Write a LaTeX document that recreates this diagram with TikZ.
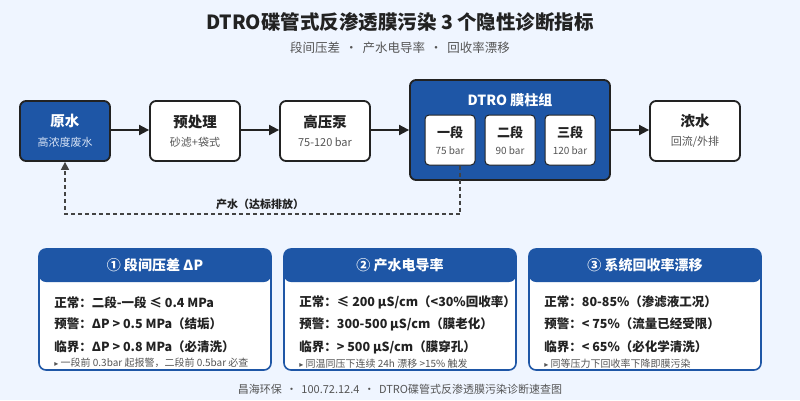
\documentclass[tikz,border=0pt]{standalone}
\usepackage{fontspec}
\setmainfont{Noto Sans CJK SC}
\newfontfamily\symfont{DejaVu Sans}
\usetikzlibrary{arrows.meta,positioning}
\definecolor{PageBg}{RGB}{239,245,255}
\definecolor{DeepBlue}{RGB}{30,86,166}
\definecolor{InkDark}{RGB}{34,34,34}
\definecolor{InkGray}{RGB}{85,85,85}
\definecolor{SoftWhite}{RGB}{214,226,245}
\newcommand{\fsz}[1]{\fontsize{#1}{#1}\selectfont}

\begin{document}
\begin{tikzpicture}[x=1pt, y=-1pt,
    flowbox/.style={draw=InkDark, line width=1.8pt, rounded corners=6pt, fill=white,
        minimum width=90pt, minimum height=60pt, align=center, inner sep=0pt},
    stagebox/.style={draw=InkDark, line width=1pt, rounded corners=4pt, fill=white,
        minimum width=50pt, minimum height=50pt, align=center, inner sep=0pt},
    flowarrow/.style={-{Triangle[length=10pt,width=10pt]}, line width=1.8pt, InkDark},
    feedback/.style={-{Triangle[length=8pt,width=8pt]}, line width=1.6pt, InkDark!85,
        dash pattern=on 4pt off 3pt},
    card/.style={draw=DeepBlue, line width=1.6pt, rounded corners=7pt, fill=white,
        minimum width=232pt, minimum height=121pt, inner sep=0pt,
        path picture={\fill[DeepBlue] (path picture bounding box.north west)
            rectangle ([yshift=-33pt]path picture bounding box.north east);}},
    cardhead/.style={text=white, font=\fsz{14}\bfseries, inner sep=0pt},
    cardline/.style={anchor=west, inner sep=0pt, text=InkDark, font=\fsz{12.5}\bfseries},
    cardnote/.style={anchor=west, inner sep=0pt, text=InkGray, font=\fsz{10}}]

    % Page background
    \fill[PageBg] (0,0) rectangle (800,400);
    \useasboundingbox (0,0) rectangle (800,400);

    % Title and subtitle
    \node[font=\fsz{19.5}\bfseries, text=InkDark] (title) at (400,22)
        {DTRO碟管式反渗透膜污染 3 个隐性诊断指标};
    \node[font=\fsz{12.5}, text=InkGray] (subtitle) at (400,48)
        {段间压差 \,·\, 产水电导率 \,·\, 回收率漂移};

    % Process chain
    \node[flowbox, fill=DeepBlue, text=white] (raw) at (65,131)
        {{\fsz{14.5}\bfseries 原水}\\[7.5pt]{\fsz{11}\color{SoftWhite}高浓度废水}};
    \foreach \nm/\cx/\ttl/\sub in {pre/195/预处理/砂滤+袋式, pump/325/高压泵/75-120 bar,
        brine/695/浓水/{回流/外排}} {
        \node[flowbox, text=InkDark] (\nm) at (\cx,131)
            {{\fsz{14.5}\bfseries \ttl}\\[7.5pt]{\fsz{11}\color{InkGray}\sub}};
    }

    % DTRO membrane group with its three stages
    \node[flowbox, fill=DeepBlue, minimum width=200pt, minimum height=100pt] (dtro) at (510,130) {};
    \node[text=white, font=\fsz{14}\bfseries] (dtrotitle) at (510,100) {DTRO 膜柱组};
    \foreach \nm/\cx/\ttl/\sub in {s1/450/一段/75 bar, s2/510/二段/90 bar, s3/570/三段/120 bar} {
        \node[stagebox, text=InkDark] (\nm) at (\cx,140)
            {{\fsz{13}\bfseries \ttl}\\[5pt]{\fsz{10}\color{InkGray}\sub}};
    }

    % Main flow arrows
    \draw[flowarrow] (raw.east |- 0,130) -- (pre.west |- 0,130);
    \draw[flowarrow] (pre.east |- 0,130) -- (pump.west |- 0,130);
    \draw[flowarrow] (pump.east |- 0,130) -- (dtro.west);
    \draw[flowarrow] (dtro.east) -- (brine.west |- 0,130);

    % Permeate return line
    \coordinate (fbturn) at (0,214);
    \coordinate (fbstart) at ([xshift=10pt]s1.south);
    \draw[feedback] (fbstart) -- (fbstart |- fbturn) -| (raw.south);
    \node[font=\fsz{11}\bfseries, text=InkDark] (fblabel) at (260,204) {产水（达标排放）};

    % Indicator cards
    \foreach \k/\cx/\head in {1/155/{① 段间压差 ΔP}, 2/400/{② 产水电导率}, 3/645/{③ 系统回收率漂移}} {
        \node[card] (c\k) at (\cx,309.5) {};
        \node[cardhead] (h\k) at ([yshift=-17pt]c\k.north) {\head};
    }

    % Card 1: stage pressure difference
    \node[cardline] (c1a) at ([xshift=16pt,yshift=-54pt]c1.north west) {正常：二段-一段 ≤ 0.4 MPa};
    \node[cardline] (c1b) at ([xshift=16pt,yshift=-76pt]c1.north west) {预警：ΔP > 0.5 MPa（结垢）};
    \node[cardline] (c1c) at ([xshift=16pt,yshift=-99pt]c1.north west) {临界：ΔP > 0.8 MPa（必清洗）};
    \node[cardnote] (c1d) at ([xshift=16pt,yshift=-115pt]c1.north west)
        {{\symfont\fsz{8}▸} 一段前 0.3bar 起报警，二段前 0.5bar 必查};

    % Card 2: permeate conductivity
    \node[cardline] (c2a) at ([xshift=16pt,yshift=-54pt]c2.north west) {正常：≤ 200 μS/cm（<30\%回收率）};
    \node[cardline] (c2b) at ([xshift=16pt,yshift=-76pt]c2.north west) {预警：300-500 μS/cm（膜老化）};
    \node[cardline] (c2c) at ([xshift=16pt,yshift=-99pt]c2.north west) {临界：> 500 μS/cm（膜穿孔）};
    \node[cardnote] (c2d) at ([xshift=16pt,yshift=-115pt]c2.north west)
        {{\symfont\fsz{8}▸} 同温同压下连续 24h 漂移 >15\% 触发};

    % Card 3: recovery drift
    \node[cardline] (c3a) at ([xshift=16pt,yshift=-54pt]c3.north west) {正常：80-85\%（渗滤液工况）};
    \node[cardline] (c3b) at ([xshift=16pt,yshift=-76pt]c3.north west) {预警：< 75\%（流量已经受限）};
    \node[cardline] (c3c) at ([xshift=16pt,yshift=-99pt]c3.north west) {临界：< 65\%（必化学清洗）};
    \node[cardnote] (c3d) at ([xshift=16pt,yshift=-115pt]c3.north west)
        {{\symfont\fsz{8}▸} 同等压力下回收率下降即膜污染};

    % Footer
    \node[font=\fsz{11}, text=InkGray] (footer) at (400,389)
        {昌海环保 \,·\, 100.72.12.4 \,·\, DTRO碟管式反渗透膜污染诊断速查图};
\end{tikzpicture}
\end{document}
